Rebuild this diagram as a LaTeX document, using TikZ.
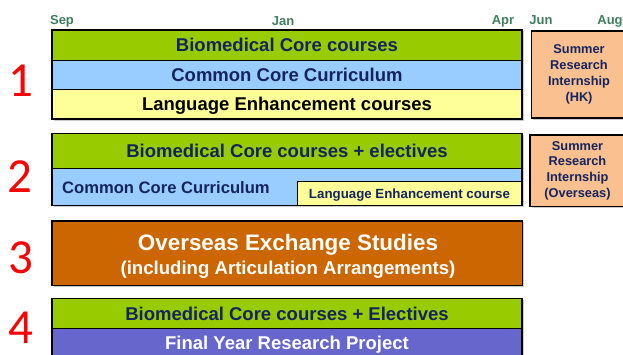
\documentclass[tikz,border=0pt]{standalone}
\usepackage{fontspec}
\setmainfont{Liberation Sans}
\newfontfamily\numfont{Carlito}
\definecolor{bgreen}{HTML}{99CC00}
\definecolor{bblue}{HTML}{99CCFF}
\definecolor{byellow}{HTML}{FFFF99}
\definecolor{bpeach}{HTML}{FAC090}
\definecolor{bbrown}{HTML}{CC6600}
\definecolor{bpurple}{HTML}{6666CC}
\definecolor{navy}{HTML}{14245E}
\definecolor{mgreen}{HTML}{3F7F5F}
\begin{document}
\begin{tikzpicture}[x=1pt,y=-1pt,
  cell/.style={draw=black, line width=0.9pt, anchor=north west, inner sep=0pt, outer sep=0pt, text=navy},
  big/.style={font=\bfseries\fontsize{18.5}{20}\selectfont, text height=13.2pt, text depth=0pt},
  frame/.style={draw=black, line width=1.9pt},
  shade/.style={fill=black!20},
  month/.style={text=mgreen, font=\bfseries\fontsize{13}{14}\selectfont, text height=9.3pt, text depth=0pt, inner sep=0pt},
  num/.style={text=red, font=\numfont\fontsize{49}{50}\selectfont, text height=32pt, text depth=0pt, inner sep=0pt},
  summer/.style={cell, fill=bpeach, draw=black, line width=1.6pt, align=center, font=\bfseries\fontsize{12.8}{15.8}\selectfont},
  lbl/.style={inner sep=0pt}
]
\clip (0,0) rectangle (623,355);
\fill[white] (0,0) rectangle (623,355);
% shadows
\fill[shade] (53.5,31.5) rectangle (523.8,120.8);
\fill[shade] (53.5,135) rectangle (523.8,207.3);
\fill[shade] (53.5,222.5) rectangle (524.3,287.3);
\fill[shade] (53.5,300) rectangle (523.8,360);
\fill[shade] (533,32.5) rectangle (630,119.8);
\fill[shade] (531.5,136.5) rectangle (630,208.3);

% months
\node[month] (sep) at (62,20) {Sep};
\node[month] (jan) at (283,20.5) {Jan};
\node[month] (apr) at (503,20) {Apr};
\node[month] (jun) at (541,19.5) {Jun};
\node[month] (aug) at (610,19.5) {Aug};

% numbers
\node[num] (n1) at (21,81) {1};
\node[num] (n2) at (20,177) {2};
\node[num] (n3) at (21,257) {3};
\node[num] (n4) at (21,327) {4};

% year 1
\node[cell, big, fill=bgreen, minimum width=470pt, minimum height=30pt] (b1a) at (52,30) {Biomedical Core courses};
\node[cell, big, fill=bblue, minimum width=470pt, minimum height=29.5pt] (b1b) at (52,60) {Common Core Curriculum};
\node[cell, big, fill=byellow, text=black, minimum width=470pt, minimum height=29.5pt] (b1c) at (52,89.5) {Language Enhancement courses};
\draw[frame] (b1a.north west) rectangle (b1c.south east);
\node[summer, minimum width=95pt, minimum height=87pt] (s1) at (531.5,31) {Summer\\Research\\Internship\\(HK)};

% year 2
\node[cell, big, fill=bgreen, minimum width=470pt, minimum height=35pt] (b2a) at (52,133.5) {Biomedical Core courses + electives};
\node[cell, fill=bblue, minimum width=470pt, minimum height=37pt] (b2b) at (52,168.5) {};
\node[lbl, anchor=west, text=navy, font=\bfseries\fontsize{16.6}{18}\selectfont, text height=11.9pt, text depth=0pt] (b2t) at (62,187.5) {Common Core Curriculum};
\node[cell, fill=byellow, minimum width=225pt, minimum height=24pt, font=\bfseries\fontsize{13.3}{15}\selectfont, text height=9.5pt, text depth=0pt] (b2c) at (297,181.5) {Language Enhancement course};
\draw[frame] (b2a.north west) rectangle (b2b.south east);
\node[summer, minimum width=95pt, minimum height=71.5pt] (s2) at (530,135) {Summer\\Research\\Internship\\(Overseas)};

% year 3
\node[cell, fill=bbrown, minimum width=470.5pt, minimum height=64.5pt] (b3) at (52,221) {};
\draw[frame] (b3.north west) rectangle (b3.south east);
\node[lbl, text=white, font=\bfseries\fontsize{22.4}{24}\selectfont, text height=16pt, text depth=0pt] (b3t1) at (288,242.5) {Overseas Exchange Studies};
\node[lbl, text=white, font=\bfseries\fontsize{18.6}{20}\selectfont, text height=13.3pt, text depth=0pt] (b3t2) at (288,268) {(including Articulation Arrangements)};

% year 4
\node[cell, big, fill=bgreen, minimum width=470pt, minimum height=30pt] (b4a) at (52,298.5) {Biomedical Core courses + Electives};
\node[cell, big, fill=bpurple, text=white, minimum width=470pt, minimum height=29pt] (b4b) at (52,328.5) {Final Year Research Project};
\draw[frame] (b4a.north west) rectangle (b4b.south east);
\end{tikzpicture}
\end{document}
